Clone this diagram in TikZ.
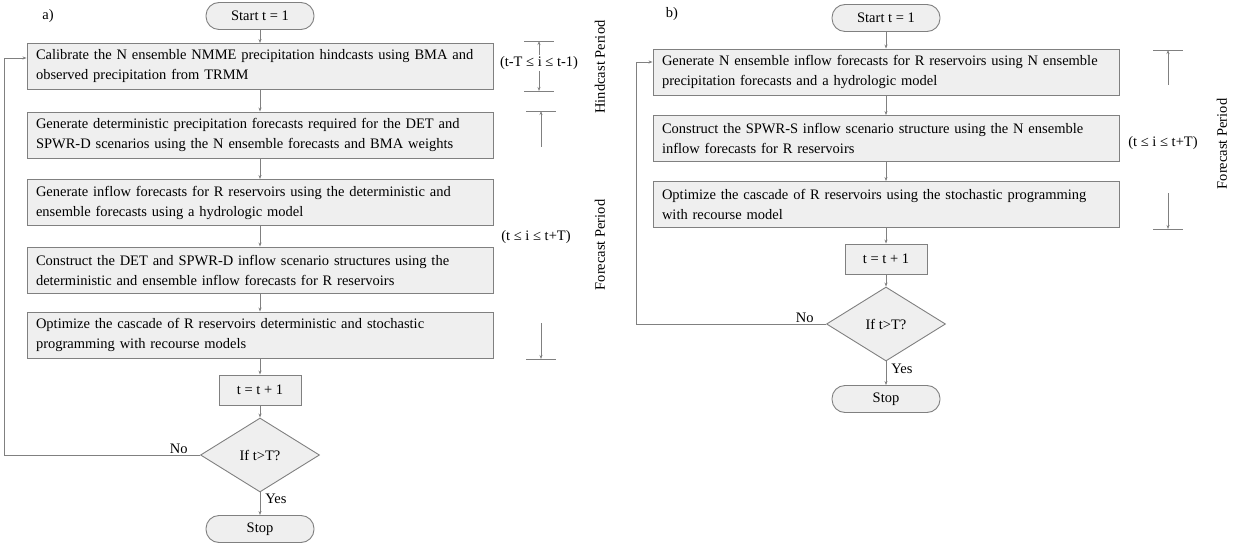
\documentclass[tikz,border=0pt]{standalone}
\usepackage{fontspec}
\setmainfont{Liberation Serif}
\usepackage{tikz}
\usetikzlibrary{shapes,arrows.meta,calc}

\definecolor{boxfill}{HTML}{EFEFEF}
\definecolor{boxline}{HTML}{808080}

\tikzset{
  stepbox/.style={draw=boxline, fill=boxfill, line width=0.9pt, rectangle, minimum width=466pt, minimum height=46pt, text width=448pt, align=left, inner sep=0pt, font=\fontsize{14.5}{20}\selectfont},
  termbox/.style={draw=boxline, fill=boxfill, line width=0.9pt, rectangle, rounded corners=13pt, minimum width=108pt, minimum height=27pt, font=\fontsize{14.5}{18}\selectfont},
  incbox/.style={draw=boxline, fill=boxfill, line width=0.9pt, rectangle, minimum width=82pt, minimum height=30pt, font=\fontsize{14.5}{18}\selectfont},
  testbox/.style={draw=boxline, fill=boxfill, line width=0.9pt, diamond, minimum width=119pt, minimum height=74pt, inner sep=0pt, font=\fontsize{14.5}{18}\selectfont},
  flow/.style={draw=boxline, line width=0.9pt, -{Stealth[length=4pt,width=3pt]}},
  bar/.style={draw=boxline, line width=0.9pt},
  spanlbl/.style={inner sep=1pt, font=\fontsize{14.5}{18}\selectfont},
  period/.style={rotate=90, inner sep=1pt, font=\fontsize{14.5}{18}\selectfont},
  lbl/.style={inner sep=1pt, font=\fontsize{14.5}{18}\selectfont}
}

\begin{document}
\begin{tikzpicture}[x=1pt,y=-1pt]
	\useasboundingbox (0,0) rectangle (1233,548);

	% a) deterministic and SPWR-D
	\node[lbl] (taga) at (48,16) {a)};
	\node[termbox] (starta) at (260,16) {Start t = 1};
	\node[stepbox] (a1) at (260,66.5) {Calibrate the N ensemble NMME precipitation hindcasts using BMA and\\observed precipitation from TRMM};
	\node[stepbox] (a2) at (260,135) {Generate deterministic precipitation forecasts required for the DET and\\SPWR-D scenarios using the N ensemble forecasts and BMA weights};
	\node[stepbox] (a3) at (260,202.5) {Generate inflow forecasts for R reservoirs using the deterministic and\\ensemble forecasts using a hydrologic model};
	\node[stepbox] (a4) at (260,270) {Construct the DET and SPWR-D inflow scenario structures using the\\deterministic and ensemble inflow forecasts for R reservoirs};
	\node[stepbox] (a5) at (260,335) {Optimize the cascade of R reservoirs deterministic and stochastic\\programming with recourse models};
	\node[incbox] (inca) at (260,390) {t = t + 1};
	\node[testbox] (testa) at (260,455) {If t>T?};
	\node[termbox] (stopa) at (260,529) {Stop};

	\draw[flow] (starta) -- (a1);
	\draw[flow] (a1) -- (a2);
	\draw[flow] (a2) -- (a3);
	\draw[flow] (a3) -- (a4);
	\draw[flow] (a4) -- (a5);
	\draw[flow] (a5) -- (inca);
	\draw[flow] (inca) -- (testa);
	\draw[flow] (testa) -- node[lbl, pos=0.3, right, xshift=4pt] {Yes} (stopa);
	\coordinate (loopa) at (4,58);
	\draw[flow] (testa.west) node[lbl, anchor=south east, xshift=-11pt] {No} -| (loopa) -- (loopa -| a1.west);

	% hindcast and forecast periods
	\node[spanlbl] (ha) at (539,63) {(t-T ≤ i ≤ t-1)};
	\coordinate (ha1) at (539,41);
	\coordinate (ha2) at (539,91);
	\draw[bar] ($(ha1)+(-15,0)$) -- ++(30,0);
	\draw[bar] ($(ha2)+(-15,0)$) -- ++(30,0);
	\draw[flow] (ha.north) -- (ha1);
	\draw[flow] (ha.south) -- (ha2);
	\node[period] (hpa) at (600,67) {Hindcast Period};

	\node[spanlbl] (fa) at (536,237) {(t ≤ i ≤ t+T)};
	\coordinate (fa0) at (541,147);
	\coordinate (fa1) at (541,111);
	\coordinate (fa2) at (541,323);
	\coordinate (fa3) at (541,359);
	\draw[bar] ($(fa1)+(-15,0)$) -- ++(30,0);
	\draw[bar] ($(fa3)+(-15,0)$) -- ++(30,0);
	\draw[flow] (fa0) -- (fa1);
	\draw[flow] (fa2) -- (fa3);
	\node[period] (fpa) at (600,245) {Forecast Period};

	% b) SPWR-S
	\node[lbl] (tagb) at (672,14) {b)};
	\node[termbox] (startb) at (886,18) {Start t = 1};
	\node[stepbox] (b1) at (886,72) {Generate N ensemble inflow forecasts for R reservoirs using N ensemble\\precipitation forecasts and a hydrologic model};
	\node[stepbox] (b2) at (886,138.5) {Construct the SPWR-S inflow scenario structure using the N ensemble\\inflow forecasts for R reservoirs};
	\node[stepbox] (b3) at (886,204.5) {Optimize the cascade of R reservoirs using the stochastic programming\\with recourse model};
	\node[incbox] (incb) at (886,259) {t = t + 1};
	\node[testbox] (testb) at (886,324) {If t>T?};
	\node[termbox] (stopb) at (886,399) {Stop};

	\draw[flow] (startb) -- (b1);
	\draw[flow] (b1) -- (b2);
	\draw[flow] (b2) -- (b3);
	\draw[flow] (b3) -- (incb);
	\draw[flow] (incb) -- (testb);
	\draw[flow] (testb) -- node[lbl, pos=0.3, right, xshift=4pt] {Yes} (stopb);
	\coordinate (loopb) at (636,62);
	\draw[flow] (testb.west) node[lbl, anchor=south east, xshift=-11pt] {No} -| (loopb) -- (loopb -| b1.west);

	\node[spanlbl] (fb) at (1163,143) {(t ≤ i ≤ t+T)};
	\coordinate (fb0) at (1168,85);
	\coordinate (fb1) at (1168,50);
	\coordinate (fb2) at (1168,193);
	\coordinate (fb3) at (1168,229);
	\draw[bar] ($(fb1)+(-15,0)$) -- ++(30,0);
	\draw[bar] ($(fb3)+(-15,0)$) -- ++(30,0);
	\draw[flow] (fb0) -- (fb1);
	\draw[flow] (fb2) -- (fb3);
	\node[period] (fpb) at (1222,144) {Forecast Period};
\end{tikzpicture}
\end{document}
